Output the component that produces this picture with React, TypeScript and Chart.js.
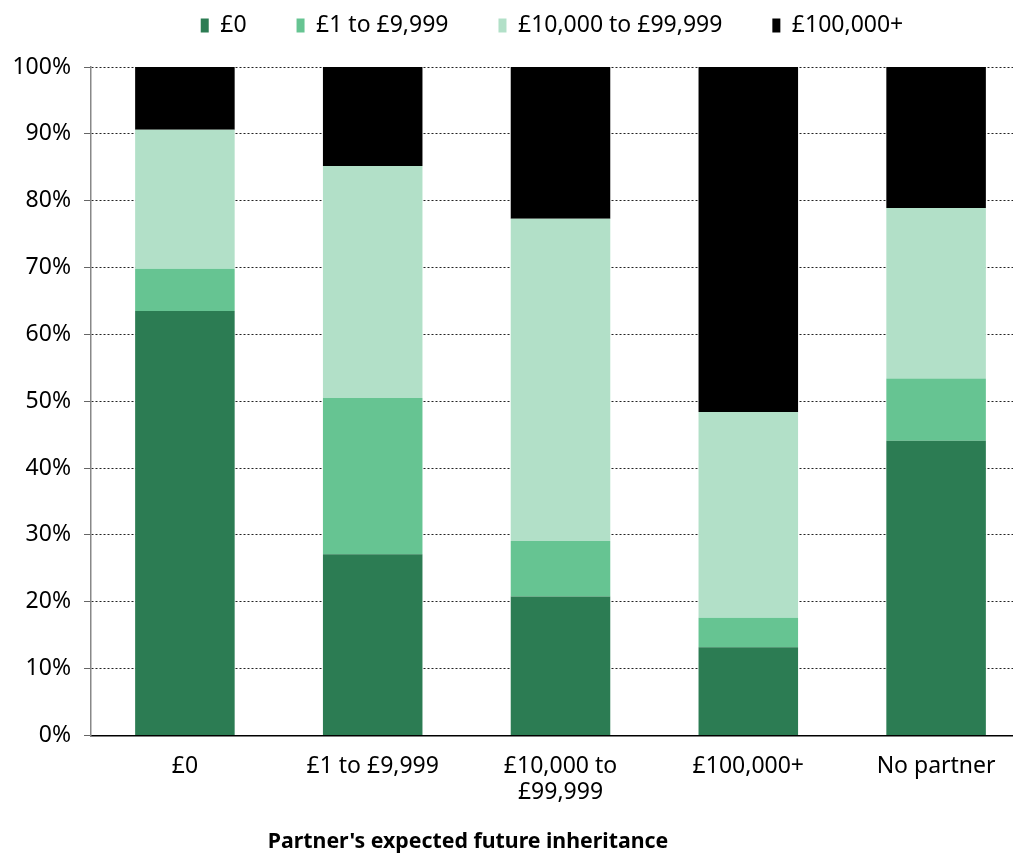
import React, { useEffect, useRef } from "react";
import { Chart, registerables } from "chart.js";

Chart.register(...registerables);

const categories: (string | string[])[] = ["£0", "£1 to £9,999", ["£10,000 to", "£99,999"], "£100,000+", "No partner"];
const seriesNames = ["£0", "£1 to £9,999", "£10,000 to £99,999", "£100,000+"];
const zeroValues = [63.5, 27.1, 20.8, 13.2, 44.1];
const smallValues = [6.3, 23.4, 8.3, 4.4, 9.3];
const mediumValues = [20.8, 34.7, 48.2, 30.8, 25.5];
const largeValues = [9.4, 14.8, 22.7, 51.6, 21.1];
const colors = ["#2c7c53", "#66c492", "#b2e0c8", "#000000"];
const yTicks = [0, 10, 20, 30, 40, 50, 60, 70, 80, 90, 100];
const xTitle = "Partner's expected future inheritance";

const FONT = "'Noto Sans', sans-serif";

export default function App() {
  const ref = useRef<HTMLCanvasElement>(null);
  useEffect(() => {
    document.body.style.margin = "0";
    document.body.style.overflow = "hidden";
    const values = [zeroValues, smallValues, mediumValues, largeValues];
    const chart = new Chart(ref.current!, {
      type: "bar",
      data: {
        labels: categories,
        datasets: seriesNames.map((n, i) => ({
          label: n,
          data: values[i],
          backgroundColor: colors[i],
          borderWidth: 0,
          barPercentage: 0.53,
          categoryPercentage: 1,
        })),
      },
      options: {
        animation: false,
        responsive: false,
        layout: { padding: { top: 0, left: 0, right: 0, bottom: 0 } },
        plugins: {
          tooltip: { enabled: false },
          legend: {
            position: "top",
            labels: {
              boxWidth: 8,
              boxHeight: 14,
              padding: 50,
              color: "#000",
              font: { family: FONT, size: 23 },
            },
          },
          title: {
            display: true,
            position: "bottom",
            text: xTitle,
            color: "#000",
            font: { family: FONT, size: 21.3, weight: "bold" },
            padding: { top: 13, bottom: 0 },
          },
        },
        scales: {
          x: {
            stacked: true,
            grid: { display: false, drawTicks: false },
            border: { color: "#000", width: 1.5 },
            ticks: { color: "#000", font: { family: FONT, size: 23, lineHeight: 1.13 }, padding: 18, maxRotation: 0, autoSkip: false },
            afterFit: (s: any) => { s.height = 81; },
          },
          y: {
            stacked: true,
            min: 0,
            max: 100,
            afterBuildTicks: (s: any) => { s.ticks = yTicks.map((v) => ({ value: v })); },
            grid: { color: "#222", lineWidth: 1, tickLength: 7, tickColor: "#666", drawTicks: true },
            border: { display: true, color: "#888", width: 1.5, dash: [2, 2] },
            ticks: { color: "#000", font: { family: FONT, size: 23 }, padding: 13, callback: (v: any) => v + "%" },
            afterFit: (s: any) => { s.width = 91; },
          },
        },
      },
      plugins: [
        {
          id: "legendFix",
          beforeUpdate(c: any) {
            const lg = c.legend;
            if (lg && !lg._patched) {
              const f = lg.fit;
              lg.fit = function () { f.call(this); this.height = 67; };
              lg._patched = true;
            }
          },
          afterLayout(c: any) {
            const lg = c.legend;
            if (lg) { lg.left += 37; lg.right += 37; lg.top -= 36; }
            const t = c.titleBlock;
            if (t) { t.left -= 47; t.right -= 47; }
          },
        },
      ],
    } as any);
    return () => chart.destroy();
  }, []);
  return (
    <div style={{ width: 1013, height: 855, overflow: "hidden" }}>
      <canvas ref={ref} width={1030} height={855} style={{ display: "block" }} />
    </div>
  );
}
